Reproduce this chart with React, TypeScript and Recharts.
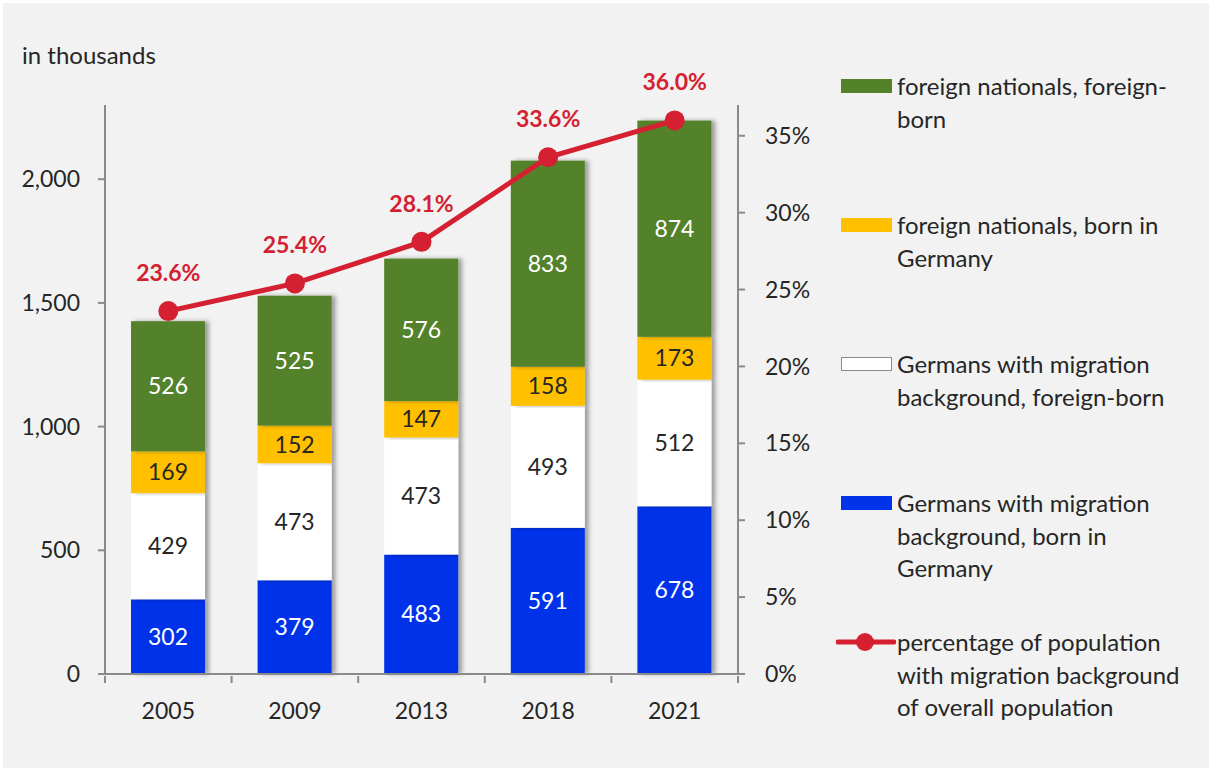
import { ComposedChart, Bar, Line, XAxis, YAxis, LabelList, Legend } from "recharts";

const years = ["2005", "2009", "2013", "2018", "2021"];
const germansBornInGermany = [302, 379, 483, 591, 678];
const germansForeignBorn = [429, 473, 473, 493, 512];
const foreignersBornInGermany = [169, 152, 147, 158, 173];
const foreignersForeignBorn = [526, 525, 576, 833, 874];
const migrationShare = [23.6, 25.4, 28.1, 33.6, 36.0];

const leftTicks = [0, 500, 1000, 1500, 2000];
const rightTicks = [0, 5, 10, 15, 20, 25, 30, 35];

// stack order, bottom to top
const barSeries = [
  { key: "gerDe", name: "Germans with migration background, born in Germany", color: "#0033ea", text: "#ffffff" },
  { key: "gerFb", name: "Germans with migration background, foreign-born", color: "#ffffff", text: "#262626" },
  { key: "forDe", name: "foreign nationals, born in Germany", color: "#ffc000", text: "#262626" },
  { key: "forFb", name: "foreign nationals, foreign-born", color: "#538229", text: "#ffffff" },
];

// legend text, as wrapped in the original
const legendItems = [
  { kind: "bar", color: "#538229", lines: ["foreign nationals, foreign-", "born"] },
  { kind: "bar", color: "#ffc000", lines: ["foreign nationals, born in", "Germany"] },
  { kind: "bar", color: "#ffffff", lines: ["Germans with migration", "background, foreign-born"] },
  { kind: "bar", color: "#0033ea", lines: ["Germans with migration", "background, born in", "Germany"] },
  { kind: "line", color: "#d42030", lines: ["percentage of population", "with migration background", "of overall population"] },
];

const data = years.map((year, i) => ({
  year,
  gerDe: germansBornInGermany[i],
  gerFb: germansForeignBorn[i],
  forDe: foreignersBornInGermany[i],
  forFb: foreignersForeignBorn[i],
  share: migrationShare[i],
}));

const FONT = "Lato, 'Open Sans', sans-serif";
const AXIS = "#8a8a8a";
const RED = "#d42030";
const TXT = "#262626";

const HALF_BAND = (738 - 105) / years.length / 2;

function YearTick(props: any) {
  const { x, y, payload, index } = props;
  return (
    <g>
      <line x1={x - HALF_BAND} x2={x - HALF_BAND} y1={y} y2={y + 7} stroke={AXIS} strokeWidth={2} />
      {index === years.length - 1 && (
        <line x1={x + HALF_BAND} x2={x + HALF_BAND} y1={y} y2={y + 7} stroke={AXIS} strokeWidth={2} />
      )}
      <text x={x} y={y + 43} textAnchor="middle" fill={TXT} fontSize={23} fontFamily={FONT}>
        {payload.value}
      </text>
    </g>
  );
}

function ShadowBar(props: any) {
  const { x, y, width, height, fill } = props;
  if (!height || height <= 0) return null;
  return <rect x={x} y={y} width={width} height={height} fill={fill} filter="url(#barShadow)" />;
}

function ShareLabel(props: any) {
  const { x, y, value } = props;
  return (
    <text x={x} y={y - 30} textAnchor="middle" fill={RED} fontSize={23} fontWeight={700} fontFamily={FONT}>
      {`${Number(value).toFixed(1)}%`}
    </text>
  );
}

function LegendBox() {
  return (
    <div style={{ position: "relative", width: 380, height: 700, fontFamily: FONT, fontSize: 24, color: TXT }}>
      {legendItems.map((item, i) => (
        <div key={i} style={{ position: "absolute", left: 0, top: i * 139, width: 380 }}>
          {item.kind === "bar" ? (
            <div
              style={{
                position: "absolute",
                left: 11,
                top: 9,
                width: 51,
                height: 14,
                background: item.color,
                border: item.color === "#ffffff" ? "1px solid #8a8a8a" : "none",
                boxSizing: "border-box",
              }}
            />
          ) : (
            <svg style={{ position: "absolute", left: 6, top: 5 }} width={60} height={22}>
              <line x1={2} x2={58} y1={11} y2={11} stroke={item.color} strokeWidth={5} strokeLinecap="round" />
              <circle cx={29} cy={11} r={9} fill={item.color} />
            </svg>
          )}
          <div style={{ position: "absolute", left: 67, top: 0, lineHeight: "32.5px", whiteSpace: "nowrap" }}>
            {item.lines.map((l, j) => (
              <div key={j}>{l}</div>
            ))}
          </div>
        </div>
      ))}
    </div>
  );
}

export default function App() {
  return (
    <div style={{ position: "fixed", left: 0, top: 0, width: 1213, height: 770, background: "#ffffff" }}>
      <div style={{ position: "absolute", left: 3, top: 3, width: 1206, height: 765, background: "#f2f2f2" }} />
      <div style={{ position: "absolute", left: 22, top: 40, fontFamily: FONT, fontSize: 24, color: TXT }}>
        in thousands
      </div>
      <div style={{ position: "absolute", left: 0, top: 0 }}>
        <ComposedChart
          width={1213}
          height={770}
          data={data}
          margin={{ top: 105, right: 395, bottom: 36, left: 20 }}
          barSize={74}
        >
          <defs>
            <filter id="barShadow" x="-20%" y="-5%" width="150%" height="110%">
              <feDropShadow dx={4} dy={0} stdDeviation={2} floodColor="#000000" floodOpacity={0.35} />
            </filter>
          </defs>
          <XAxis
            dataKey="year"
            axisLine={{ stroke: AXIS, strokeWidth: 2 }}
            tickLine={false}
            tickSize={0}
            tick={<YearTick />}
            height={60}
            interval={0}
          />
          <YAxis
            yAxisId="left"
            domain={[0, 2300]}
            ticks={leftTicks}
            width={85}
            axisLine={{ stroke: AXIS, strokeWidth: 2 }}
            tickLine={{ stroke: AXIS, strokeWidth: 2 }}
            tickSize={7}
            tickMargin={18}
            tick={{ fill: TXT, fontSize: 23, fontFamily: FONT }}
            tickFormatter={(v: number) => v.toLocaleString("en-US")}
          />
          <YAxis
            yAxisId="right"
            orientation="right"
            domain={[0, 37]}
            ticks={rightTicks}
            width={80}
            axisLine={{ stroke: AXIS, strokeWidth: 2 }}
            tickLine={{ stroke: AXIS, strokeWidth: 2 }}
            tickSize={7}
            tickMargin={20}
            tick={{ fill: TXT, fontSize: 23, fontFamily: FONT }}
            tickFormatter={(v: number) => `${v}%`}
          />
          {barSeries.map((s) => (
            <Bar
              key={s.key}
              yAxisId="left"
              dataKey={s.key}
              name={s.name}
              stackId="a"
              fill={s.color}
              shape={<ShadowBar />}
              isAnimationActive={false}
            >
              <LabelList dataKey={s.key} position="center" fill={s.text} fontSize={23} fontFamily={FONT} />
            </Bar>
          ))}
          <Line
            yAxisId="right"
            dataKey="share"
            stroke={RED}
            strokeWidth={5}
            dot={{ r: 10, fill: RED, stroke: RED, strokeWidth: 0 }}
            activeDot={false}
            isAnimationActive={false}
          >
            <LabelList dataKey="share" content={<ShareLabel />} />
          </Line>
          <Legend
            layout="vertical"
            align="center"
            verticalAlign="middle"
            content={() => <LegendBox />}
            wrapperStyle={{ left: 830, top: 70, width: 380, height: 700 }}
          />
        </ComposedChart>
      </div>
    </div>
  );
}
